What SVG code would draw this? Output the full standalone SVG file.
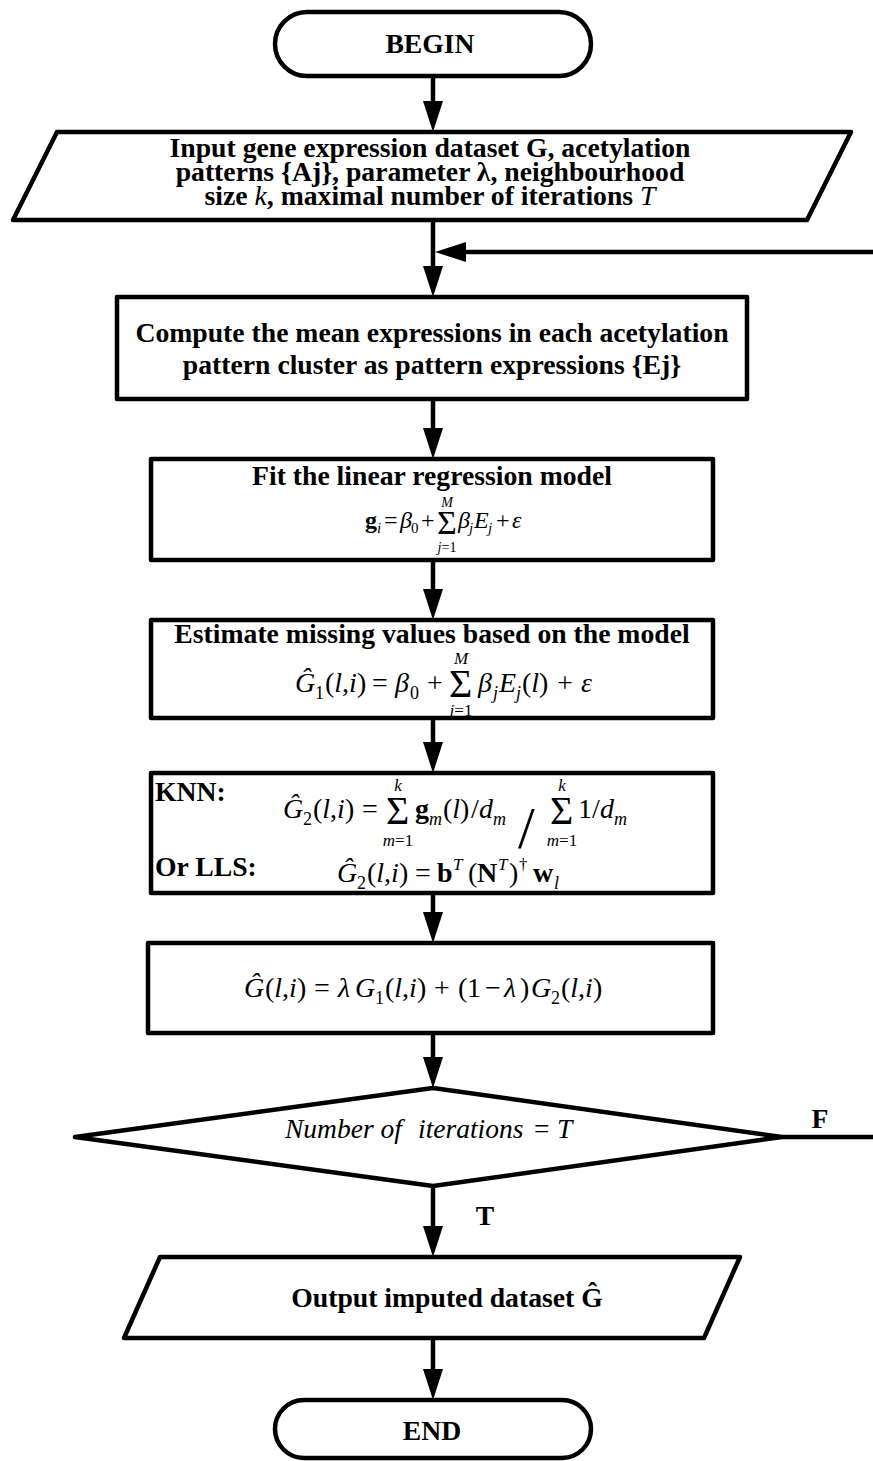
<svg xmlns="http://www.w3.org/2000/svg" width="873" height="1461" viewBox="0 0 873 1461">
<style>
.s{fill:#fff;stroke:#000;stroke-width:4.5;stroke-linejoin:round}
.c{fill:none;stroke:#000;stroke-width:4.5;marker-end:url(#ah)}
.t{font-family:"Liberation Serif","Times New Roman",serif;font-weight:bold;font-size:27.7px;text-anchor:middle;fill:#000}
.f{font-family:"Liberation Serif","Times New Roman",serif;font-size:28px;fill:#000}
.i{font-style:italic}
.n{font-style:normal}
.bo{font-weight:bold;font-style:normal}
.sb{font-size:18px}
.lim{font-size:17px;font-style:italic;text-anchor:middle}
</style>
<defs>
<marker id="ah" markerUnits="userSpaceOnUse" markerWidth="31" markerHeight="20" viewBox="0 0 31 20" refX="21" refY="10" orient="auto"><path d="M0,0 L31,10 L0,20 Z" fill="#000"/></marker>
</defs>
<rect width="873" height="1461" fill="#fff"/>
<g id="connectors">
<path class="c" d="M433,76 V122"/>
<path class="c" d="M433,220 V287"/>
<path class="c" d="M782,1137 H880 V252 H445"/>
<path class="c" d="M433,399 V449"/>
<path class="c" d="M433,560 V610"/>
<path class="c" d="M433,718 V763"/>
<path class="c" d="M433,893 V933"/>
<path class="c" d="M433,1033 V1078"/>
<path class="c" d="M433,1186 V1247"/>
<path class="c" d="M433,1338 V1390"/>
<text class="t" x="820" y="1128">F</text>
<text class="t" x="485" y="1225">T</text>
</g>
<g id="begin">
<rect class="s" x="275" y="12" width="316" height="64" rx="32"/>
<text class="t" x="430" y="53">BEGIN</text>
</g>
<g id="input">
<polygon class="s" points="57,132 851,132 807,220 13,220"/>
<text class="t"><tspan x="430" y="157">Input gene expression dataset G, acetylation</tspan><tspan x="430" y="181">patterns {Aj}, parameter λ, neighbourhood</tspan><tspan x="430" y="205">size <tspan class="i" font-weight="normal">k</tspan>, maximal number of iterations <tspan class="i" font-weight="normal">T</tspan></tspan></text>
</g>
<g id="compute">
<rect class="s" x="117" y="297" width="630" height="102"/>
<text class="t"><tspan x="432" y="342">Compute the mean expressions in each acetylation</tspan><tspan x="432" y="374">pattern cluster as pattern expressions {Ej}</tspan></text>
</g>
<g id="fit">
<rect class="s" x="151" y="459" width="562" height="101"/>
<text class="t" x="432" y="485">Fit the linear regression model</text>
<text class="f" style="font-size:24px"><tspan x="365" y="528" class="bo">g</tspan><tspan x="377" y="533" class="i" style="font-size:15px">i</tspan><tspan x="384" y="528">=</tspan><tspan x="400" class="i">β</tspan><tspan x="411" y="533" style="font-size:15px">0</tspan><tspan x="421" y="528">+</tspan><tspan x="437" y="534" style="font-size:34px">Σ</tspan><tspan x="458" y="528" class="i">β</tspan><tspan x="469" y="533" class="i" style="font-size:15px">j</tspan><tspan x="474" y="528" class="i">E</tspan><tspan x="488" y="533" class="i" style="font-size:15px">j</tspan><tspan x="496" y="528">+</tspan><tspan x="512" class="i">ε</tspan></text>
<text class="f lim" style="font-size:14px" x="447" y="507">M</text>
<text class="f lim" style="font-size:14px" x="447" y="552">j<tspan class="n">=1</tspan></text>
</g>
<g id="estimate">
<rect class="s" x="151" y="620" width="562" height="98"/>
<text class="t" x="432" y="643">Estimate missing values based on the model</text>
<text class="f"><tspan x="295" y="692" class="i">Ĝ</tspan><tspan x="315" y="699" class="sb">1</tspan><tspan x="325" y="692">(<tspan class="i">l</tspan>,<tspan class="i">i</tspan>)</tspan><tspan x="372">=</tspan><tspan x="395" class="i">β</tspan><tspan x="410" y="699" class="sb">0</tspan><tspan x="427" y="692">+</tspan><tspan x="449" y="697" style="font-size:40px">Σ</tspan><tspan x="478" y="692" class="i">β</tspan><tspan x="493" y="699" class="sb i">j</tspan><tspan x="499" y="692" class="i">E</tspan><tspan x="516" y="699" class="sb i">j</tspan><tspan x="522" y="692">(<tspan class="i">l</tspan>)</tspan><tspan x="557">+</tspan><tspan x="581" class="i">ε</tspan></text>
<text class="f lim" x="461" y="664">M</text>
<text class="f lim" x="461" y="716">j<tspan class="n">=1</tspan></text>
</g>
<g id="impute">
<rect class="s" x="151" y="773" width="562" height="120"/>
<text class="t" style="text-anchor:start" x="155" y="801">KNN:</text>
<text class="t" style="text-anchor:start" x="155" y="876">Or LLS:</text>
<text class="f"><tspan x="283" y="818" class="i">Ĝ</tspan><tspan x="303" y="825" class="sb">2</tspan><tspan x="313" y="818">(<tspan class="i">l</tspan>,<tspan class="i">i</tspan>)</tspan><tspan x="362">=</tspan><tspan x="386" y="824" style="font-size:40px">Σ</tspan><tspan x="415" y="818" class="bo">g</tspan><tspan x="429" y="825" class="sb i">m</tspan><tspan x="443" y="818">(<tspan class="i">l</tspan>)</tspan><tspan x="471">/</tspan><tspan x="479" class="i">d</tspan><tspan x="493" y="825" class="sb i">m</tspan><tspan x="518" y="848" style="font-size:60px">/</tspan><tspan x="550" y="824" style="font-size:40px">Σ</tspan><tspan x="578" y="818">1</tspan><tspan x="592">/</tspan><tspan x="600" class="i">d</tspan><tspan x="614" y="825" class="sb i">m</tspan></text>
<text class="f lim" x="398" y="791">k</text>
<text class="f lim" x="398" y="846">m<tspan class="n">=1</tspan></text>
<text class="f lim" x="562" y="791">k</text>
<text class="f lim" x="562" y="846">m<tspan class="n">=1</tspan></text>
<text class="f"><tspan x="337" y="882" class="i">Ĝ</tspan><tspan x="357" y="889" class="sb">2</tspan><tspan x="367" y="882">(<tspan class="i">l</tspan>,<tspan class="i">i</tspan>)</tspan><tspan x="415">=</tspan><tspan x="437" class="bo">b</tspan><tspan x="453" y="870" class="i" style="font-size:17px">T</tspan><tspan x="468" y="882">(</tspan><tspan x="477" class="bo">N</tspan><tspan x="498" y="870" class="i" style="font-size:17px">T</tspan><tspan x="509" y="882">)</tspan><tspan x="519" y="870" style="font-size:17px">†</tspan><tspan x="533" y="882" class="bo">w</tspan><tspan x="554" y="889" class="sb i">l</tspan></text>
</g>
<g id="combine">
<rect class="s" x="148" y="943" width="565" height="90"/>
<text class="f"><tspan x="244" y="997" class="i">Ĝ</tspan><tspan x="265">(<tspan class="i">l</tspan>,<tspan class="i">i</tspan>)</tspan><tspan x="314">=</tspan><tspan x="338" class="i">λ</tspan><tspan x="355" class="i">G</tspan><tspan x="375" y="1004" class="sb">1</tspan><tspan x="385" y="997">(<tspan class="i">l</tspan>,<tspan class="i">i</tspan>)</tspan><tspan x="434">+</tspan><tspan x="458">(</tspan><tspan x="467">1</tspan><tspan x="485">−</tspan><tspan x="504" class="i">λ</tspan><tspan x="520">)</tspan><tspan x="531" class="i">G</tspan><tspan x="551" y="1004" class="sb">2</tspan><tspan x="561" y="997">(<tspan class="i">l</tspan>,<tspan class="i">i</tspan>)</tspan></text>
</g>
<g id="decision">
<polygon class="s" points="433,1088 782,1137 433,1186 75,1137"/>
<text class="f i" style="font-size:27.5px"><tspan x="285" y="1138">Number of</tspan><tspan x="418">iterations</tspan><tspan x="534" class="n">=</tspan><tspan x="557">T</tspan></text>
</g>
<g id="output">
<polygon class="s" points="160,1257 740,1257 704,1338 124,1338"/>
<text class="t" x="447" y="1307">Output imputed dataset Ĝ</text>
</g>
<g id="end">
<rect class="s" x="275" y="1400" width="316" height="58" rx="29"/>
<text class="t" x="432" y="1440">END</text>
</g>
</svg>
